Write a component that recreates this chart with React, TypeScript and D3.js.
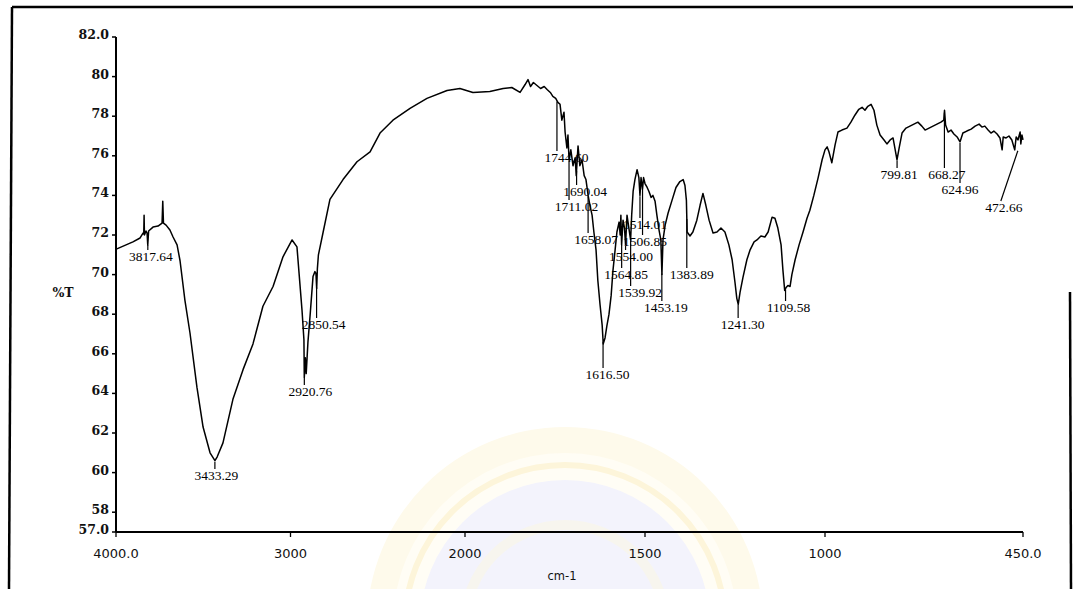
import React, { useEffect } from 'react';
import * as d3 from 'd3';

// ---- Spectrum data (wavenumber cm-1, %T) ----
const wavenumbers = [
  3995, 3903, 3862, 3845, 3841, 3839, 3837, 3828, 3822, 3818, 3813, 3788, 3759, 3736, 3732, 3728,
  3713, 3691, 3673, 3650, 3633, 3605, 3576, 3536, 3501, 3461, 3433, 3420, 3387, 3330, 3272, 3215,
  3158, 3100, 3043, 2991, 2963, 2934, 2923, 2921, 2915, 2910, 2900, 2888, 2871, 2860, 2854, 2850,
  2846, 2840, 2814, 2774, 2699, 2619, 2544, 2487, 2413, 2315, 2218, 2103, 2029, 1978, 1931, 1894,
  1870, 1847, 1833, 1825, 1818, 1810, 1800, 1790, 1780, 1772, 1763, 1756, 1748, 1742, 1736, 1731,
  1725, 1722, 1717, 1714, 1711, 1706, 1700, 1694, 1691, 1686, 1681, 1675, 1669, 1664, 1658, 1653,
  1647, 1642, 1636, 1631, 1625, 1619, 1616, 1611, 1606, 1600, 1594, 1589, 1583, 1578, 1572, 1569,
  1567, 1565, 1561, 1557, 1554, 1550, 1544, 1540, 1537, 1533, 1528, 1522, 1517, 1514, 1511, 1507,
  1504, 1500, 1494, 1489, 1483, 1478, 1472, 1467, 1461, 1456, 1453, 1450, 1444, 1436, 1425, 1414,
  1403, 1394, 1389, 1385, 1383, 1375, 1367, 1356, 1347, 1339, 1331, 1322, 1311, 1300, 1289, 1278,
  1267, 1258, 1250, 1245, 1241, 1236, 1228, 1217, 1208, 1197, 1189, 1178, 1167, 1158, 1147, 1139,
  1131, 1122, 1117, 1112, 1108, 1103, 1097, 1092, 1083, 1072, 1061, 1050, 1042, 1031, 1019, 1008,
  1000, 994, 989, 981, 972, 964, 953, 939, 928, 917, 906, 897, 889, 881, 872, 864,
  856, 847, 836, 828, 819, 811, 806, 800, 794, 786, 775, 764, 753, 742, 731, 722,
  711, 700, 689, 678, 670, 668, 665, 658, 650, 642, 633, 625, 617, 606, 594, 583,
  572, 564, 556, 547, 539, 531, 522, 514, 508, 505, 497, 489, 481, 473, 469, 464,
  458, 456, 453, 450,
];

const transmittance = [
  71.3, 71.65, 71.85, 72.1, 72.05, 73.0, 72.0, 72.2, 72.1, 71.5, 72.2, 72.4, 72.45, 72.6, 73.7, 72.6,
  72.5, 72.25, 71.9, 71.5, 70.7, 68.7, 67.05, 64.3, 62.3, 61.0, 60.6, 60.8, 61.5, 63.7, 65.2, 66.5,
  68.4, 69.4, 70.9, 71.75, 71.4, 68.2, 66.7, 64.8, 65.8, 65.0, 66.6, 67.9, 69.9, 70.15, 70.05, 69.3,
  70.3, 71.0, 72.1, 73.8, 74.8, 75.7, 76.2, 77.15, 77.8, 78.4, 78.9, 79.3, 79.4, 79.2, 79.25, 79.4,
  79.45, 79.2, 79.6, 79.85, 79.5, 79.7, 79.55, 79.4, 79.5, 79.35, 79.2, 79.0, 78.9, 78.7, 78.6, 77.8,
  78.2, 77.2, 76.4, 77.05, 75.8, 76.3, 75.5, 75.9, 75.0, 76.5, 75.5, 75.8, 75.0, 74.8, 74.0, 73.5,
  73.0, 72.15, 71.25, 69.7, 68.5, 67.45, 66.5, 66.8, 67.4, 68.0, 68.95, 70.2, 71.25, 72.15, 72.65, 72.0,
  73.0, 71.5, 72.75, 72.35, 71.5, 73.0, 72.25, 71.75, 73.0, 74.2, 74.8, 75.3, 74.9, 74.0, 74.9, 74.3,
  74.9, 74.6, 74.4, 74.2, 73.9, 74.0, 73.7, 73.0, 72.25, 71.75, 70.0, 71.75, 72.5, 73.1, 73.75, 74.4,
  74.7, 74.8, 74.5, 73.75, 72.15, 71.95, 72.15, 72.75, 73.5, 74.1, 73.5, 72.75, 72.1, 72.15, 72.35, 72.15,
  71.5, 70.75, 69.6, 68.8, 68.5, 69.1, 69.85, 70.75, 71.25, 71.65, 71.75, 71.95, 71.9, 72.15, 72.9, 72.85,
  72.35, 71.5, 70.25, 69.2, 69.35, 69.45, 69.4, 70.0, 70.75, 71.5, 72.15, 72.85, 73.25, 74.0, 74.9, 75.8,
  76.3, 76.45, 76.2, 75.65, 76.55, 77.2, 77.3, 77.4, 77.7, 78.05, 78.35, 78.45, 78.3, 78.5, 78.6, 78.3,
  77.55, 77.05, 76.8, 76.6, 76.8, 76.9, 76.4, 75.8, 76.4, 77.15, 77.4, 77.5, 77.6, 77.7, 77.5, 77.3,
  77.4, 77.5, 77.6, 77.7, 77.8, 78.3, 77.55, 77.2, 77.3, 77.1, 76.95, 76.7, 77.15, 77.25, 77.35, 77.5,
  77.6, 77.45, 77.5, 77.3, 77.15, 77.25, 77.1, 76.9, 76.3, 76.95, 76.9, 77.0, 76.8, 76.3, 76.95, 76.8,
  77.2, 76.6, 77.05, 76.8,
];

// ---- Peak annotations ----
const peakWavenumbers = [
  3817.64, 3433.29, 2920.76, 2850.54, 1744.6, 1711.02, 1690.04, 1658.07, 1616.5, 1564.85, 1554.0,
  1539.92, 1514.01, 1506.85, 1453.19, 1383.89, 1241.3, 1109.58, 799.81, 668.27, 624.96, 472.66,
];
const peakLabels = [
  '3817.64', '3433.29', '2920.76', '2850.54', '1744.60', '1711.02', '1690.04', '1658.07', '1616.50',
  '1564.85', '1554.00', '1539.92', '1514.01', '1506.85', '1453.19', '1383.89', '1241.30', '1109.58',
  '799.81', '668.27', '624.96', '472.66',
];

// ---- Axis ticks ----
const xTickValues = [4000, 3000, 2000, 1500, 1000, 450];
const xTickLabels = ['4000.0', '3000', '2000', '1500', '1000', '450.0'];
const yTickValues = [82, 80, 78, 76, 74, 72, 70, 68, 66, 64, 62, 60, 58, 57];
const yTickLabels = ['82.0', '80', '78', '76', '74', '72', '70', '68', '66', '64', '62', '60', '58', '57.0'];

// layout for the peak labels (pixel offsets / baselines), kept apart from data
const labelLayout: { dx: number; by: number; lead: 'v' | 's' }[] = [
  { dx: 3, by: 261, lead: 'v' },
  { dx: 1.5, by: 480, lead: 'v' },
  { dx: 6, by: 396, lead: 'v' },
  { dx: 7, by: 329, lead: 'v' },
  { dx: 9.5, by: 162, lead: 'v' },
  { dx: 7.5, by: 211, lead: 'v' },
  { dx: 8.5, by: 196, lead: 'v' },
  { dx: 8, by: 244, lead: 'v' },
  { dx: 4.5, by: 379, lead: 'v' },
  { dx: 4.5, by: 279, lead: 'v' },
  { dx: 5.5, by: 261, lead: 'v' },
  { dx: 9.5, by: 297, lead: 'v' },
  { dx: 5, by: 229, lead: 'v' },
  { dx: 2.5, by: 246, lead: 'v' },
  { dx: 4, by: 312, lead: 'v' },
  { dx: 5, by: 279, lead: 'v' },
  { dx: 4.5, by: 329, lead: 'v' },
  { dx: 3, by: 312, lead: 'v' },
  { dx: 2, by: 179, lead: 'v' },
  { dx: 2.5, by: 179, lead: 'v' },
  { dx: 0, by: 194, lead: 'v' },
  { dx: -11, by: 212, lead: 's' },
];

function interpT(w: number): number {
  for (let i = 0; i < wavenumbers.length - 1; i++) {
    const a = wavenumbers[i], b = wavenumbers[i + 1];
    if (w <= a && w >= b) {
      const t = (a - w) / (a - b);
      return transmittance[i] + t * (transmittance[i + 1] - transmittance[i]);
    }
  }
  return transmittance[transmittance.length - 1];
}

export default function App() {
  useEffect(() => {
    document.body.style.margin = '0';
  }, []);

  const W = 1073;
  const H = 589;
  const x = d3.scaleLinear().domain([4000, 2000, 450]).range([116, 465, 1023]);
  const y = d3.scaleLinear().domain([57, 82]).range([532, 37]);

  const line = d3
    .line<number>()
    .x((_, i) => x(wavenumbers[i]))
    .y((d) => y(d));
  const pathD = line(transmittance) || '';

  const serif = '"Liberation Serif", "Times New Roman", serif';
  const boldSerif = '"DejaVu Serif", serif';
  const sans = '"DejaVu Sans", sans-serif';

  return (
    <svg width={W} height={H} style={{ position: 'absolute', left: 0, top: 0, background: '#fff' }}>
      {/* faint watermark seal */}
      <g>
        <circle cx={565} cy={625} r={198} fill="#fefaeb" />
        <circle cx={565} cy={625} r={172} fill="#fffdf5" />
        <circle cx={565} cy={625} r={160} fill="none" stroke="#fdf5da" strokeWidth={6} />
        <circle cx={565} cy={625} r={145} fill="#f3f3fc" />
        <circle cx={565} cy={625} r={100} fill="none" stroke="#f7f5ee" strokeWidth={10} />
      </g>

      {/* outer frame */}
      <g stroke="#000" strokeWidth={2.5} fill="none">
        <line x1={12} y1={7} x2={1073} y2={7} />
        <line x1={12} y1={7} x2={9} y2={589} />
        <line x1={1070} y1={292} x2={1071} y2={589} />
      </g>

      {/* y axis */}
      <g>
        <line x1={116} y1={y(82)} x2={116} y2={y(57)} stroke="#000" strokeWidth={2} />
        {yTickValues.map((v, i) => (
          <g key={'yt' + v}>
            <line x1={112} x2={116} y1={y(v)} y2={y(v)} stroke="#000" strokeWidth={1.5} />
            <text
              x={109}
              y={y(v) + 2}
              textAnchor="end"
              fontFamily={boldSerif}
              fontWeight="bold"
              fontSize={12.5}
              fill="#111"
            >
              {yTickLabels[i]}
            </text>
          </g>
        ))}
        <text x={63} y={297} textAnchor="middle" fontFamily={boldSerif} fontWeight="bold" fontSize={12.5} fill="#111">
          %T
        </text>
      </g>

      {/* x axis */}
      <g>
        <line x1={116} y1={532} x2={x(450)} y2={532} stroke="#000" strokeWidth={1.8} />
        {xTickValues.map((v, i) => (
          <g key={'xt' + v}>
            <line x1={x(v)} x2={x(v)} y1={532} y2={537} stroke="#000" strokeWidth={1.3} />
            <text x={x(v)} y={558} textAnchor="middle" fontFamily={sans} fontSize={13} fill="#111">
              {xTickLabels[i]}
            </text>
          </g>
        ))}
        <text x={562} y={580} textAnchor="middle" fontFamily={sans} fontSize={11.5} fill="#111">
          cm-1
        </text>
      </g>

      {/* spectrum */}
      <path d={pathD} fill="none" stroke="#000" strokeWidth={1.5} strokeLinejoin="round" />

      {/* peak annotations */}
      <g>
        {peakWavenumbers.map((w, i) => {
          const px = x(w);
          const cy = y(interpT(w));
          const lay = labelLayout[i];
          const top = lay.by - 11;
          let lead: React.ReactNode = null;
          if (lay.lead === 'v' && top > cy + 2) {
            lead = <line x1={px} x2={px} y1={cy + 1} y2={top} stroke="#000" strokeWidth={1.2} />;
          } else if (lay.lead === 's') {
            lead = <line x1={px + 3} x2={px + lay.dx - 3} y1={cy + 2} y2={top} stroke="#000" strokeWidth={1.2} />;
          }
          return (
            <g key={'pk' + i}>
              {lead}
              <text x={px + lay.dx} y={lay.by} textAnchor="middle" fontFamily={serif} fontSize={13.5} fill="#000">
                {peakLabels[i]}
              </text>
            </g>
          );
        })}
      </g>
    </svg>
  );
}
